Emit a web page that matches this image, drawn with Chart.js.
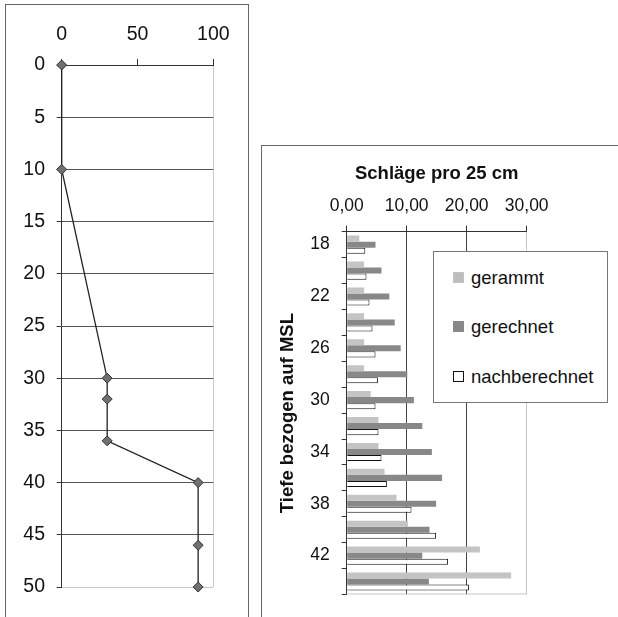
<!DOCTYPE html>
<html><head><meta charset="utf-8">
<script src="https://cdn.jsdelivr.net/npm/chart.js@4"></script>
<style>
html,body{margin:0;padding:0;background:#fff;width:618px;height:617px;overflow:hidden;font-family:"Liberation Sans",Arial,sans-serif;}
#frameL{position:absolute;left:5px;top:4px;width:242px;height:700px;border:1px solid #666;border-bottom:none;}
#frameR{position:absolute;left:261px;top:145px;width:400px;height:600px;border-left:1px solid #666;border-top:1px solid #666;}
#cL{position:absolute;left:0;top:0;}
#cR{position:absolute;left:262px;top:145px;}
#legend{position:absolute;left:433px;top:251px;width:173px;height:150px;border:1px solid #777;background:#fff;}
.item{position:absolute;left:19px;height:22px;font-size:18.5px;line-height:22px;color:#111;white-space:nowrap;}
.sw{position:absolute;left:0;top:5px;width:11px;height:11px;box-sizing:border-box;}
.tx{position:absolute;left:18px;top:0;}
</style>
</head><body>
<div id="frameL"></div>
<div id="frameR"></div>
<canvas id="cL" width="250" height="617"></canvas>
<canvas id="cR" width="356" height="472"></canvas>
<div id="legend"></div>
<script>
// ---- left chart data ----
const leftDepth = [0, 10, 30, 32, 36, 40, 46, 50];
const leftValue = [0, 0, 30, 30, 30, 90, 90, 90];

// ---- right chart data ----
const depthCategories = ['18','20','22','24','26','28','30','32','34','36','38','40','42','44'];
const gerammt       = [2.1, 2.9, 2.9, 2.9, 2.9, 2.9, 4.0, 5.3, 5.3, 6.3, 8.3, 10.2, 22.2, 27.4];
const gerechnet     = [4.8, 5.8, 7.1, 8.0, 9.0, 10.1, 11.2, 12.6, 14.2, 15.9, 14.9, 13.8, 12.6, 13.7];
const nachberechnet = [3.1, 3.3, 3.8, 4.3, 4.8, 5.2, 4.8, 5.3, 5.8, 6.7, 10.8, 14.9, 16.9, 20.4];
const seriesNames = ['gerammt', 'gerechnet', 'nachberechnet'];

Chart.defaults.font.family = '"Liberation Sans", Arial, sans-serif';
Chart.defaults.color = '#111';
Chart.defaults.devicePixelRatio = 1;

// ---------- LEFT CHART ----------
new Chart(document.getElementById('cL'), {
  type: 'scatter',
  data: {
    datasets: [{
      data: leftDepth.map((d, i) => ({x: leftValue[i], y: d})),
      showLine: true,
      clip: false,
      borderColor: '#222',
      borderWidth: 1.3,
      pointStyle: 'rectRot',
      pointRadius: 5,
      pointBackgroundColor: '#707070',
      pointBorderColor: '#333',
      pointBorderWidth: 1
    }]
  },
  options: {
    responsive: false,
    animation: false,
    layout: {padding: {left: 0, top: 0, right: 36.7, bottom: 30}},
    plugins: {legend: {display: false}, tooltip: {enabled: false}},
    scales: {
      x: {
        type: 'linear', position: 'top', min: 0, max: 100,
        afterFit: s => { s.height = 65; },
        ticks: {stepSize: 50, padding: 12.3, font: {size: 19.5}, color: '#111'},
        grid: {
          tickLength: 6, tickColor: '#333',
          color: c => (c.tick && c.tick.value === 100) ? '#c8c8c8' : 'rgba(0,0,0,0)'
        },
        border: {color: '#333', width: 1}
      },
      y: {
        type: 'linear', reverse: true, min: 0, max: 50,
        afterFit: s => { s.width = 61.7; },
        ticks: {stepSize: 5, padding: 11.7, font: {size: 19.5}, color: '#111'},
        grid: {
          tickLength: 5, tickColor: '#333',
          color: c => (c.tick && c.tick.value === 50) ? '#c8c8c8' : '#555'
        },
        border: {color: '#333', width: 1}
      }
    }
  }
});

// ---------- RIGHT CHART ----------
const barColors = ['#c4c4c4', '#888888', '#ffffff'];
const barBorders = ['#c4c4c4', '#888888', '#111111'];
const bottomBorder = {
  id: 'bottomBorder',
  afterDraw(chart) {
    const {ctx, chartArea: a} = chart;
    ctx.save();
    ctx.strokeStyle = '#c8c8c8';
    ctx.lineWidth = 1;
    ctx.beginPath();
    ctx.moveTo(a.left, a.bottom - 0.5);
    ctx.lineTo(a.right, a.bottom - 0.5);
    ctx.stroke();
    ctx.restore();
  }
};
const rightChart = new Chart(document.getElementById('cR'), {
  type: 'bar',
  data: {
    labels: depthCategories,
    datasets: [gerammt, gerechnet, nachberechnet].map((vals, i) => ({
      label: seriesNames[i],
      data: vals,
      backgroundColor: barColors[i],
      borderColor: barBorders[i],
      borderWidth: i === 2 ? 1 : 0,
      barPercentage: 1,
      categoryPercentage: 0.7
    }))
  },
  options: {
    indexAxis: 'y',
    responsive: false,
    animation: false,
    layout: {padding: {left: 0, top: 0, right: 91.3, bottom: 7.7}},
    plugins: {legend: {display: false}, tooltip: {enabled: false}},
    scales: {
      x: {
        type: 'linear', position: 'top', min: 0, max: 30,
        afterFit: s => { s.height = 86.7; },
        title: {display: true, text: 'Schläge pro 25 cm', font: {size: 18.5, weight: 'bold'}, padding: {top: 17.5, bottom: 0}, color: '#111'},
        ticks: {stepSize: 10, padding: 9.5, font: {size: 17.5}, color: '#111',
                callback: v => v.toFixed(2).replace('.', ',')},
        grid: {
          tickLength: 6, tickColor: '#333',
          color: c => {
            if (!c.tick) return 'rgba(0,0,0,0)';
            if (c.tick.value === 0) return 'rgba(0,0,0,0)';
            if (c.tick.value === 30) return '#c8c8c8';
            return '#444';
          }
        },
        border: {color: '#333', width: 1}
      },
      y: {
        type: 'category',
        afterFit: s => { s.width = 84.7; },
        title: {display: true, text: 'Tiefe bezogen auf MSL', font: {size: 18.5, weight: 'bold'}, padding: {top: 14.4, bottom: 0}, color: '#111'},
        ticks: {autoSkip: false, padding: 12, font: {size: 17.5}, color: '#111',
                callback: (v, i) => (i % 2 === 0 ? depthCategories[i] : '')},
        grid: {drawOnChartArea: false, tickLength: 5, tickColor: '#333', offset: true},
        border: {color: '#333', width: 1}
      }
    }
  },
  plugins: [bottomBorder]
});

// ---------- LEGEND (built from datasets) ----------
const legend = document.getElementById('legend');
const centers = [26, 74.7, 124.7];
rightChart.data.datasets.forEach((ds, i) => {
  const item = document.createElement('div');
  item.className = 'item';
  item.style.top = (centers[i] - 11) + 'px';
  const sw = document.createElement('span');
  sw.className = 'sw';
  sw.style.background = i === 0 ? '#bdbdbd' : ds.backgroundColor;
  sw.style.border = '1px solid ' + (i === 2 ? '#111' : ds.backgroundColor);
  const tx = document.createElement('span');
  tx.className = 'tx';
  tx.textContent = ds.label;
  item.appendChild(sw); item.appendChild(tx);
  legend.appendChild(item);
});
</script>
</body></html>
